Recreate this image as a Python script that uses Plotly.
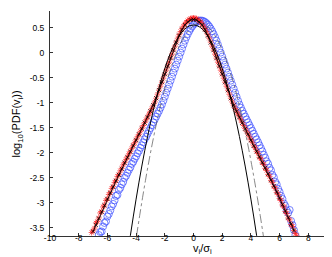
import plotly.graph_objects as go

# ---- data ----
red_x = [-7.1,-7.0,-6.9,-6.8,-6.7,-6.6,-6.5,-6.4,-6.3,-6.2,-6.1,-6.0,-5.9,-5.8,-5.7,-5.6,-5.5,-5.4,-5.3,-5.2,
         -5.1,-5.0,-4.9,-4.8,-4.7,-4.6,-4.5,-4.4,-4.3,-4.2,-4.1,-4.0,-3.9,-3.8,-3.7,-3.6,-3.5,-3.4,-3.3,-3.2,
         -3.1,-3.0,-2.9,-2.8,-2.7,-2.6,-2.5,-2.4,-2.3,-2.2,-2.1,-2.0,-1.9,-1.8,-1.7,-1.6,-1.5,-1.4,-1.3,-1.2,
         -1.1,-1.0,-0.9,-0.8,-0.7,-0.6,-0.5,-0.4,-0.3,-0.2,-0.1,0.0,
         0.1,0.2,0.3,0.4,0.5,0.6,0.7,0.8,0.9,1.0,1.1,1.2,1.3,1.4,1.5,1.6,1.7,1.8,1.9,2.0,
         2.1,2.2,2.3,2.4,2.5,2.6,2.7,2.8,2.9,3.0,3.1,3.2,3.3,3.4,3.5,3.6,3.7,3.8,3.9,4.0,
         4.1,4.2,4.3,4.4,4.5,4.6,4.7,4.8,4.9,5.0,5.1,5.2,5.3,5.4,5.5,5.6,5.7,5.8,5.9,6.0,
         6.1,6.2,6.3,6.4,6.5,6.6,6.7,6.8,6.9,7.0,7.1,7.2]
red_y = [-3.59,-3.56,-3.50,-3.40,-3.37,-3.30,-3.20,-3.17,-3.08,-3.04,
         -2.95,-2.92,-2.83,-2.79,-2.71,-2.67,-2.59,-2.55,-2.47,-2.43,
         -2.36,-2.31,-2.24,-2.19,-2.13,-2.08,-2.02,-1.97,-1.91,-1.85,
         -1.80,-1.74,-1.68,-1.63,-1.57,-1.51,-1.455,-1.398,-1.341,-1.284,
         -1.227,-1.170,-1.113,-1.050,-0.985,-0.910,-0.830,-0.750,-0.670,-0.590,
         -0.510,-0.430,-0.350,-0.270,-0.190,-0.110,-0.030,0.050,0.130,0.210,
         0.287,0.357,0.420,0.477,0.527,0.570,0.607,0.637,0.660,0.677,0.687,
         0.690,
         0.687,0.677,0.660,0.637,0.607,0.570,0.527,0.477,0.420,0.357,
         0.287,0.210,0.130,0.050,-0.030,-0.110,-0.190,-0.270,-0.350,-0.430,
         -0.510,-0.590,-0.670,-0.750,-0.830,-0.910,-0.985,-1.050,-1.113,-1.170,
         -1.227,-1.284,-1.341,-1.398,-1.455,-1.512,-1.569,-1.626,-1.683,-1.740,
         -1.79,-1.86,-1.90,-1.97,-2.01,-2.09,-2.12,-2.20,-2.23,-2.31,
         -2.35,-2.43,-2.47,-2.55,-2.59,-2.67,-2.71,-2.79,-2.83,-2.91,
         -2.95,-3.04,-3.08,-3.17,-3.21,-3.30,-3.34,-3.43,-3.47,-3.55,
         -3.61,-3.66]

blue_x = [-6.6,-6.5,-6.4,-6.3,-6.2,-6.1,-6.0,-5.9,-5.8,-5.7,-5.6,-5.5,-5.4,-5.3,-5.2,-5.1,-5.0,-4.9,-4.8,-4.7,
          -4.6,-4.5,-4.4,-4.3,-4.2,-4.1,-4.0,-3.9,-3.8,-3.7,-3.6,-3.5,-3.4,-3.3,-3.2,-3.1,-3.0,-2.9,-2.8,-2.7,
          -2.6,-2.5,-2.4,-2.3,-2.2,-2.1,-2.0,-1.9,-1.8,-1.7,-1.6,-1.5,-1.4,-1.3,-1.2,-1.1,-1.0,-0.9,-0.8,-0.7,
          -0.6,-0.5,-0.4,-0.3,-0.2,-0.1,0.0,0.1,0.2,0.3,0.4,0.5,0.6,0.7,0.8,0.9,1.0,1.1,1.2,1.3,
          1.4,1.5,1.6,1.7,1.8,1.9,2.0,2.1,2.2,2.3,2.4,2.5,2.6,2.7,2.8,2.9,3.0,3.1,3.2,3.3,
          3.4,3.5,3.6,3.7,3.8,3.9,4.0,4.1,4.2,4.3,4.4,4.5,4.6,4.7,4.8,4.9,5.0,5.1,5.2,5.3,
          5.4,5.5,5.6,5.7,5.8,5.9,6.0,6.1,6.2,6.3,6.4,6.5,6.6,6.7,6.8,6.9,7.0,7.1]
blue_y = [-3.64,-3.58,-3.57,-3.47,-3.40,-3.37,-3.27,-3.22,-3.15,-3.07,
          -3.02,-2.95,-2.86,-2.84,-2.74,-2.70,-2.63,-2.58,-2.50,-2.46,
          -2.40,-2.34,-2.29,-2.22,-2.18,-2.12,-2.07,-2.01,-1.96,-1.90,
          -1.85,-1.79,-1.73,-1.68,-1.62,-1.56,-1.505,-1.448,-1.391,-1.334,
          -1.277,-1.220,-1.163,-1.100,-1.035,-0.960,-0.880,-0.800,-0.720,-0.640,
          -0.560,-0.480,-0.400,-0.320,-0.240,-0.160,-0.080,0.000,0.080,0.160,
          0.237,0.307,0.370,0.427,0.477,0.520,0.557,0.587,0.610,0.627,
          0.637,0.640,0.637,0.627,0.610,0.587,0.557,0.520,0.477,0.427,
          0.370,0.307,0.237,0.160,0.080,0.000,-0.080,-0.160,-0.240,-0.320,
          -0.400,-0.480,-0.560,-0.640,-0.720,-0.800,-0.880,-0.960,-1.035,-1.100,
          -1.163,-1.220,-1.277,-1.334,-1.391,-1.448,-1.505,-1.56,-1.62,-1.68,
          -1.73,-1.79,-1.85,-1.91,-1.97,-2.04,-2.10,-2.17,-2.22,-2.30,
          -2.35,-2.44,-2.49,-2.58,-2.63,-2.72,-2.78,-2.86,-2.92,-3.01,
          -3.06,-3.15,-3.20,-3.14,-3.36,-3.44,-3.54,-3.64]

black_x = [-7.0,-6.8,-6.6,-6.4,-6.2,-6.0,-5.8,-5.6,-5.4,-5.2,-5.0,-4.8,-4.6,-4.4,-4.2,-4.0,-3.8,-3.6,
           -3.4,-3.2,-3.0,-2.8,-2.6,-2.4,-2.2,-2.0,-1.8,-1.6,-1.4,-1.2,-1.0,-0.8,-0.6,-0.4,-0.2,0.0,
           0.2,0.4,0.6,0.8,1.0,1.2,1.4,1.6,1.8,2.0,2.2,2.4,2.6,2.8,3.0,3.2,3.4,3.6,3.8,4.0,
           4.2,4.4,4.6,4.8,5.0,5.2,5.4,5.6,5.8,6.0,6.2,6.4,6.6,6.8,7.0]
black_y = [-3.57,-3.44,-3.31,-3.18,-3.05,-2.92,-2.80,-2.68,-2.56,-2.44,-2.32,-2.20,-2.09,-1.98,-1.86,-1.75,-1.63,-1.52,
           -1.40,-1.29,-1.17,-1.05,-0.91,-0.75,-0.59,-0.43,-0.27,-0.11,0.05,0.20,0.34,0.46,0.55,0.61,0.65,0.66,
           0.65,0.61,0.55,0.46,0.34,0.20,0.05,-0.11,-0.27,-0.43,-0.59,-0.75,-0.91,-1.05,-1.17,-1.29,-1.40,-1.52,-1.63,-1.75,
           -1.86,-1.97,-2.08,-2.19,-2.30,-2.42,-2.54,-2.66,-2.78,-2.90,-3.03,-3.16,-3.29,-3.42,-3.55]

gauss_x = [-4.6,-4.4,-4.2,-4.0,-3.8,-3.6,-3.4,-3.2,-3.0,-2.8,-2.6,-2.4,-2.2,-2.0,-1.8,-1.6,-1.4,-1.2,-1.0,-0.8,-0.6,-0.4,-0.2,
           0.0,0.2,0.4,0.6,0.8,1.0,1.2,1.4,1.6,1.8,2.0,2.2,2.4,2.6,2.8,3.0,3.2,3.4,3.6,3.8,4.0,4.2,4.4,4.6]
gauss_y = [-4.044,-3.653,-3.280,-2.924,-2.585,-2.264,-1.960,-1.673,-1.404,-1.152,-0.918,-0.700,-0.501,-0.318,-0.153,-0.006,
           0.124,0.237,0.333,0.411,0.472,0.515,0.541,0.550,0.541,0.515,0.472,0.411,0.333,0.237,0.124,
           -0.006,-0.153,-0.318,-0.501,-0.700,-0.918,-1.152,-1.404,-1.673,-1.960,-2.264,-2.585,-2.924,-3.280,-3.653,-4.044]

gauss2_x = [-4.15,-3.95,-3.75,-3.55,-3.35,-3.15,-2.95,-2.75,-2.55,-2.35,-2.15,-1.95,-1.75,-1.55,-1.35,-1.15,-0.95,-0.75,-0.55,
            -0.35,-0.15,0.05,0.25,0.45,0.65,0.85,1.05,1.25,1.45,1.65,1.85,2.05,2.25,2.45,2.65,2.85,3.05,3.25,3.45,3.65,
            3.85,4.05,4.25,4.45,4.65,4.85,5.05]
gauss2_y = [-4.014,-3.623,-3.250,-2.894,-2.555,-2.234,-1.930,-1.643,-1.374,-1.122,-0.888,-0.670,-0.471,-0.288,-0.123,0.024,
            0.154,0.267,0.363,0.441,0.502,0.545,0.571,0.580,0.571,0.545,0.502,0.441,0.363,0.267,0.154,
            0.024,-0.123,-0.288,-0.471,-0.670,-0.888,-1.122,-1.374,-1.643,-1.930,-2.234,-2.555,-2.894,-3.250,-3.623,-4.014]

x_ticks = [-10, -8, -6, -4, -2, 0, 2, 4, 6, 8]
x_tick_labels = ["-10", "-8", "-6", "-4", "-2", "0", "2", "4", "6", "8"]
y_ticks = [0.5, 0, -0.5, -1, -1.5, -2, -2.5, -3, -3.5]
y_tick_labels = ["0.5", "0", "-0.5", "-1", "-1.5", "-2", "-2.5", "-3", "-3.5"]

assert len(red_x) == len(red_y)
assert len(blue_x) == len(blue_y)
assert len(black_x) == len(black_y)
assert len(gauss_x) == len(gauss_y)
assert len(gauss2_x) == len(gauss2_y)

FONT = "Liberation Sans, Arial, Helvetica, sans-serif"

fig = go.Figure()
fig.add_trace(go.Scatter(x=blue_x, y=blue_y, mode="markers",
                         marker=dict(symbol="circle-open", size=7, color="#3b4dff", line=dict(width=0.7))))
fig.add_trace(go.Scatter(x=red_x, y=red_y, mode="markers",
                         marker=dict(symbol="asterisk-open", size=5, color="#ff2020", line=dict(width=0.7))))
fig.add_trace(go.Scatter(x=black_x, y=black_y, mode="lines+markers",
                         line=dict(color="black", width=0.9),
                         marker=dict(symbol="x-thin-open", size=4, color="black", line=dict(width=0.7))))
fig.add_trace(go.Scatter(x=gauss_x, y=gauss_y, mode="lines", line=dict(color="black", width=1, shape="spline")))
fig.add_trace(go.Scatter(x=gauss2_x, y=gauss2_y, mode="lines",
                         line=dict(color="#555555", width=0.7, dash="dashdot", shape="spline")))

axis_common = dict(showline=True, linecolor="#333333", linewidth=1, ticks="inside", ticklen=3,
                   tickcolor="#333333", tickwidth=0.8, showgrid=False, zeroline=False)

fig.update_xaxes(range=[-10, 10], tickvals=x_ticks, ticktext=x_tick_labels,
                 ticklabelstandoff=-6, tickfont=dict(family=FONT, size=8.5, color="black"), **axis_common)
fig.update_yaxes(range=[-3.66, 0.83], tickvals=y_ticks, ticktext=y_tick_labels,
                 ticklabelstandoff=3, tickfont=dict(family=FONT, size=8.5, color="black"), **axis_common)

fig.update_layout(
    width=332, height=257,
    margin=dict(l=42, r=3, t=3, b=29),
    paper_bgcolor="white", plot_bgcolor="white",
    showlegend=False,
    font=dict(family=FONT, color="black"),
    annotations=[
        dict(text="log<sub>10</sub>(PDF(v<sub>i</sub>))", xref="paper", yref="paper",
             x=-0.115, y=0.5, xanchor="center", yanchor="middle", textangle=-90,
             showarrow=False, font=dict(family=FONT, size=11, color="black")),
        dict(text="v<sub>i</sub>/σ<sub>i</sub>", xref="paper", yref="paper",
             x=0.53, y=-0.058, xanchor="center", yanchor="middle",
             showarrow=False, font=dict(family=FONT, size=11, color="black")),
    ],
)

fig.write_html("out.html")
